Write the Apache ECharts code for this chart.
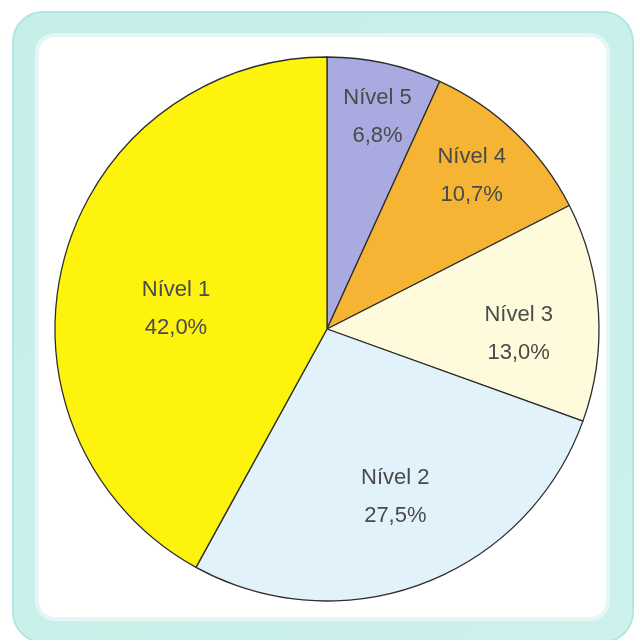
<!DOCTYPE html>
<html>
<head>
<meta charset="utf-8">
<script src="https://cdn.jsdelivr.net/npm/echarts@6/dist/echarts.min.js"></script>
<style>
  html, body { margin: 0; padding: 0; background: #ffffff; }
  #chart { width: 635px; height: 640px; }
</style>
</head>
<body>
<div id="chart"></div>
<script>
// Data (clockwise from 12 o'clock)
const categories = ['Nível 5', 'Nível 4', 'Nível 3', 'Nível 2', 'Nível 1'];
const values = [6.8, 10.7, 13.0, 27.5, 42.0];
const valueLabels = ['6,8%', '10,7%', '13,0%', '27,5%', '42,0%'];

// Styling
const colors = ['#a9abe0', '#f5b433', '#fdfbdc', '#e2f2fa', '#fdf30d'];
// label placement: fraction of radius and small angular nudge (deg, clockwise)
const labelRadiusFrac = [0.80, 0.775, 0.705, 0.665, 0.56];
const labelTurnDeg = [1.2, -0.4, 5.1, -1.5, -6.9];

const chart = echarts.init(document.getElementById('chart'), null, { renderer: 'canvas' });

const data = categories.map((c, i) => ({
  name: c,
  value: values[i],
  itemStyle: { color: colors[i] }
}));

chart.setOption({
  backgroundColor: '#ffffff',
  animation: false,
  graphic: [
    {
      type: 'rect', z: -10, silent: true,
      shape: { x: 13, y: 12, width: 620, height: 630, r: 30 },
      style: {
        fill: new echarts.graphic.LinearGradient(0, 0, 1, 1, [
          { offset: 0, color: '#c6efe9' },
          { offset: 1, color: '#cdf1ec' }
        ]),
        stroke: '#b2e6df', lineWidth: 2
      }
    },
    {
      type: 'rect', z: -9, silent: true,
      shape: { x: 37, y: 35, width: 571, height: 584, r: 18 },
      style: { fill: '#ffffff', stroke: '#e4f7f4', lineWidth: 4 }
    }
  ],
  series: [{
    type: 'pie',
    center: [327, 329],
    radius: [0, 272],
    startAngle: 90,
    clockwise: true,
    avoidLabelOverlap: false,
    data: data,
    itemStyle: { borderColor: '#2e2e2e', borderWidth: 1.3 },
    emphasis: { disabled: true },
    label: {
      show: true,
      position: 'inside',
      formatter: (p) => p.name + '\n' + valueLabels[p.dataIndex],
      fontFamily: '"Liberation Sans", Arial, sans-serif',
      fontSize: 22,
      lineHeight: 38,
      color: '#4a4a4a',
      align: 'center',
      verticalAlign: 'middle'
    },
    labelLine: { show: false },
    labelLayout: function (params) {
      const i = params.dataIndex;
      const lay = chart.getModel().getSeriesByIndex(0).getData().getItemLayout(i);
      if (!lay) return {};
      const mid = (lay.startAngle + lay.endAngle) / 2 + labelTurnDeg[i] * Math.PI / 180;
      const rr = lay.r * labelRadiusFrac[i];
      return { x: lay.cx + rr * Math.cos(mid), y: lay.cy + rr * Math.sin(mid), align: 'center', verticalAlign: 'middle' };
    }
  }]
});
</script>
</body>
</html>
